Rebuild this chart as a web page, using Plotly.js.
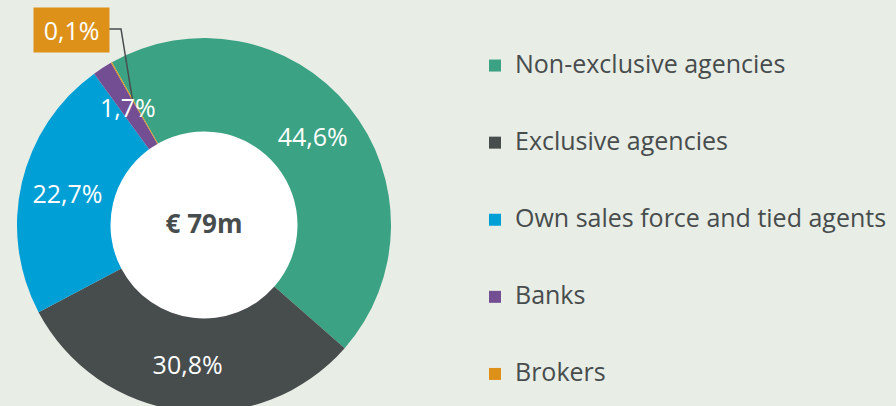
<!DOCTYPE html>
<html>
<head>
<meta charset="utf-8">
<script src="https://cdn.plot.ly/plotly-3.0.1.min.js"></script>
<style>
html,body{margin:0;padding:0;background:#e8ede6;overflow:hidden;width:896px;height:406px;}
#chart{width:896px;height:430px;}
</style>
</head>
<body>
<div id="chart"></div>
<script>
// ---- data ----
const categories = ["Non-exclusive agencies", "Exclusive agencies", "Own sales force and tied agents", "Banks", "Brokers"];
const shares = [44.6, 30.8, 22.7, 1.7, 0.1];
const colors = ["#3ca284", "#474c4d", "#009fd6", "#744e93", "#de9119"];
const totalLabel = "€ 79m";

// ---- layout helpers ----
const W = 896, H = 430;
const px = x => x / W;
const py = y => 1 - y / H;

const fmt = v => v.toFixed(1).replace('.', ',') + '%';
// slices 0..2 carry their label inside; Banks and Brokers are labelled separately
const sliceText = shares.map((v, i) => i < 3 ? fmt(v) : '');
const legendLabels = categories.map(c => '<br><span style="font-size:25px">' + c + '</span><br>');

const cx = 204, cy = 225, R = 187, r0 = 94;
const rotation = -29.5;

// mid-angle of the Banks slice, derived from the data
const total = shares.reduce((a, b) => a + b, 0);
const before = shares.slice(0, 3).reduce((a, b) => a + b, 0);
const banksMid = (rotation + 360 * (before + shares[3] / 2) / total) * Math.PI / 180;
const rMid = (R + r0) / 2;
const banksX = cx + rMid * Math.sin(banksMid);
const banksY = cy - rMid * Math.cos(banksMid);

const holeTrace = {
  type: 'pie',
  values: [1],
  labels: ['hole'],
  marker: {colors: ['#ffffff'], line: {width: 0}},
  textinfo: 'none',
  hoverinfo: 'skip',
  showlegend: false,
  sort: false,
  domain: {x: [px(cx - r0), px(cx + r0)], y: [py(cy + r0), py(cy - r0)]}
};

const donut = {
  type: 'pie',
  values: shares,
  labels: legendLabels,
  text: sliceText,
  textinfo: 'text',
  textposition: 'inside',
  insidetextorientation: 'horizontal',
  textfont: {family: 'Open Sans', size: 25, color: '#ffffff'},
  marker: {colors: colors, line: {width: 0}},
  hole: 0.5,
  sort: false,
  direction: 'clockwise',
  rotation: rotation,
  hoverinfo: 'skip',
  domain: {x: [px(cx - R), px(cx + R)], y: [py(cy + R), py(cy - R)]},
  title: {text: '<b>' + totalLabel + '</b>', position: 'middle center',
          font: {family: 'Open Sans', size: 26, color: '#474c4d'}}
};

const layout = {
  width: W, height: H,
  margin: {l: 0, r: 0, t: 0, b: 0},
  paper_bgcolor: '#e8ede6',
  plot_bgcolor: '#e8ede6',
  showlegend: true,
  legend: {
    x: px(475), xanchor: 'left',
    y: py(22), yanchor: 'top',
    font: {family: 'Open Sans', size: 19, color: '#474c4d'},
    bgcolor: 'rgba(0,0,0,0)',
    traceorder: 'normal',
    valign: 'middle'
  },
  annotations: [{
    xref: 'paper', yref: 'paper',
    x: px(71.5), y: py(30), xanchor: 'center', yanchor: 'middle',
    text: fmt(shares[4]),
    showarrow: false,
    bgcolor: colors[4],
    width: 73, height: 42,
    font: {family: 'Open Sans', size: 25, color: '#ffffff'}
  }, {
    xref: 'paper', yref: 'paper',
    x: px(banksX), y: py(banksY), xanchor: 'center', yanchor: 'middle',
    text: fmt(shares[3]),
    showarrow: false,
    font: {family: 'Open Sans', size: 25, color: '#ffffff'}
  }],
  shapes: [{
    type: 'path', xref: 'paper', yref: 'paper',
    path: 'M ' + px(109) + ' ' + py(29) + ' L ' + px(121) + ' ' + py(29) + ' L ' + px(133) + ' ' + py(103),
    line: {color: '#474c4d', width: 1.5}
  }]
};

Plotly.newPlot('chart', [holeTrace, donut], layout, {displayModeBar: false, staticPlot: true});
</script>
</body>
</html>
